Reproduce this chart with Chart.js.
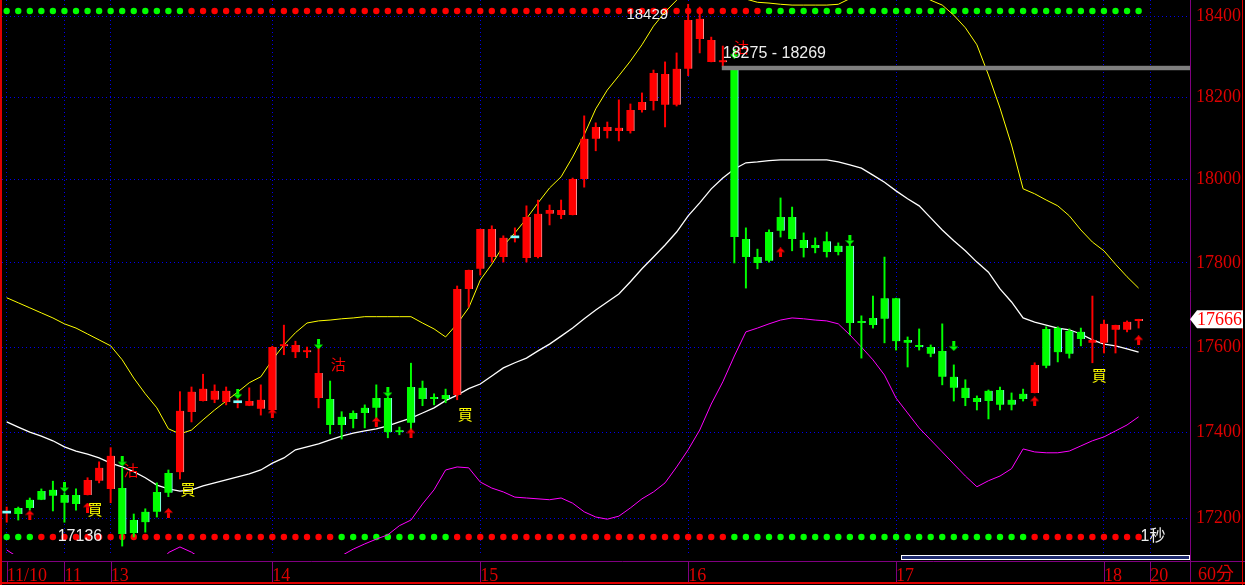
<!DOCTYPE html>
<html><head><meta charset="utf-8">
<script src="https://cdn.jsdelivr.net/npm/chart.js@4.4.1/dist/chart.umd.min.js"></script>
<style>html,body{margin:0;padding:0;background:#000;overflow:hidden}canvas{display:block}</style>
</head><body>
<canvas id="c" width="1245" height="585"></canvas>
<script>
// ---------- data (60-minute bars, index 0..98) ----------
const opens = [17212,17224,17243,17263,17266,17254,17254,17254,17287,17268,
 17270,17196,17215,17261,17305,17307,17447,17473,17476,17471,
 17469,17462,17455,17452,17602,17588,17588,17480,17478,17436,
 17445,17457,17480,17480,17401,17506,17504,17479,17487,17487,
 17738,17786,17814,17814,17860,17812,17814,17918,17915,17915,
 18002,18099,18118,18118,18118,18169,18191,18182,18182,18270,
 18343,18287,18286,18269,17857,17814,17874,17910,17910,17855,
 17843,17852,17841,17841,17658,17669,17716,17716,17617,17605,
 17600,17591,17530,17504,17480,17497,17499,17476,17490,17492,
 17643,17645,17638,17636,17610,17610,17641,17641,17662];
const highs = [17226,17226,17247,17268,17286,17259,17268,17294,17331,17364,
 17317,17210,17222,17282,17312,17495,17506,17536,17511,17506,
 17478,17504,17511,17602,17652,17614,17600,17598,17520,17448,
 17450,17464,17511,17483,17412,17562,17520,17490,17501,17745,
 17783,17881,17889,17865,17884,17937,17951,17939,17951,18004,
 18155,18138,18140,18194,18184,18211,18267,18287,18309,18429,
 18422,18348,18326,18269,17884,17833,17879,17956,17934,17872,
 17860,17874,17848,17845,17674,17721,17814,17716,17624,17643,
 17605,17655,17558,17523,17485,17499,17506,17492,17501,17563,
 17648,17648,17643,17645,17721,17664,17652,17662,17666];
const lows = [17191,17196,17219,17243,17217,17191,17219,17254,17282,17236,
 17136,17157,17168,17203,17250,17291,17424,17473,17469,17464,
 17457,17462,17440,17448,17582,17575,17575,17457,17396,17384,
 17410,17410,17431,17387,17394,17405,17462,17464,17469,17476,
 17695,17771,17802,17802,17850,17802,17812,17891,17906,17915,
 17982,18070,18101,18094,18113,18164,18169,18128,18179,18253,
 18309,18287,18275,17800,17740,17786,17802,17862,17829,17814,
 17824,17814,17819,17629,17574,17645,17610,17593,17553,17593,
 17577,17511,17473,17462,17452,17431,17452,17452,17473,17492,
 17551,17565,17574,17603,17563,17586,17586,17636,17645];
const closes = [17212,17210,17224,17243,17252,17236,17233,17289,17317,17345,
 17164,17166,17191,17215,17259,17450,17495,17502,17497,17497,
 17469,17473,17476,17600,17603,17605,17589,17539,17417,17417,
 17431,17445,17457,17400,17400,17422,17478,17478,17478,17738,
 17783,17881,17881,17860,17860,17910,17918,17927,17927,18002,
 18099,18128,18128,18126,18169,18189,18260,18257,18270,18390,
 18393,18341,18287,17862,17814,17800,17805,17877,17857,17836,
 17836,17826,17826,17657,17657,17652,17667,17614,17610,17600,
 17584,17530,17504,17480,17471,17473,17464,17464,17478,17558,
 17556,17588,17584,17619,17617,17655,17652,17660,17666];
const upperBand = [17717,17705,17693,17681,17669,17655,17645,17631,17617,17603,
 17570,17527,17490,17457,17408,17396,17405,17429,17452,17473,
 17494,17516,17530,17570,17605,17634,17657,17662,17664,17667,
 17669,17672,17672,17672,17672,17672,17657,17643,17624,17655,
 17693,17759,17797,17841,17872,17906,17944,17980,18007,18055,
 18109,18172,18218,18253,18289,18329,18375,18410,18439,18467,
 18483,18490,18490,18473,18442,18434,18432,18429,18427,18427,
 18427,18427,18429,18443,18456,18458,18460,18466,18463,18455,
 18439,18427,18402,18371,18329,18255,18174,18084,17978,17966,
 17951,17937,17913,17879,17850,17829,17797,17767,17740];
const midBand = [17424,17412,17400,17391,17380,17366,17356,17349,17340,17328,
 17319,17308,17294,17277,17268,17263,17266,17275,17282,17289,
 17296,17303,17312,17328,17340,17359,17366,17373,17382,17391,
 17398,17403,17408,17415,17424,17433,17445,17457,17474,17487,
 17502,17513,17532,17551,17563,17574,17591,17607,17626,17645,
 17667,17688,17707,17726,17755,17786,17814,17843,17874,17913,
 17944,17978,18004,18026,18041,18043,18046,18048,18048,18048,
 18048,18048,18043,18036,18028,18011,17994,17973,17954,17937,
 17908,17879,17853,17829,17802,17778,17738,17707,17669,17659,
 17652,17645,17641,17631,17617,17607,17603,17596,17588];
const lowerBand = [17127,17110,17107,17101,17085,17077,17067,17067,17063,17053,
 17054,17069,17064,17079,17121,17134,17122,17105,17100,17105,
 17098,17090,17092,17086,17075,17067,17063,17084,17100,17114,
 17129,17141,17152,17162,17183,17196,17233,17266,17312,17319,
 17317,17284,17270,17261,17249,17247,17245,17243,17247,17235,
 17215,17203,17198,17205,17224,17245,17261,17282,17319,17359,
 17405,17466,17518,17579,17636,17645,17655,17664,17669,17667,
 17664,17662,17655,17629,17600,17570,17534,17480,17445,17410,
 17382,17354,17326,17298,17273,17287,17298,17315,17361,17354,
 17352,17352,17356,17368,17380,17389,17403,17417,17436];
// signal rows (G = green dot, R = red dot), one letter per bar
const topSignal = 'GGGGGGGGGG GGGGGGRRRR RRRRRRRRRR RRRRRRRRRR RRRRRRRRRR RRRRRRRRRR RRRRRRGGGG GGGGGGGGGG GGGGGGGGGG GGGGGGGGG'.split(' ').join('');
const bottomSignal = 'GGGRRRRRRR RRRRRRRRRR RRRRRRRRRG GGGGGGGGGR RRRRRRRRRR RRRRRRRRRR RRRGGGGGGG GGGGGGGGGG GGGGGGGGGR RRRRRRRRR'.split(' ').join('');
const topSignalLevel = 18412.4;
const bottomSignalLevel = 17156.9;
// axis ticks
const dateTickIndex = [0, 5, 9, 23, 41, 59, 77, 95, 99];
const dateTickLabels = ['11/10', '11', '13', '14', '15', '16', '17', '18', '20'];
const priceTicks = [17200, 17400, 17600, 17800, 18000, 18200, 18400];
// signal markers
const upArrowIdx = [2, 7, 14, 23, 32, 35, 67, 89, 98];
const upArrowVal = [17207, 17225, 17212, 17444, 17424, 17397, 17825, 17472, 17616];
const downArrowIdx = [5, 10, 20, 27, 33, 63, 73, 82];
const downArrowVal = [17272, 17332, 17490, 17607, 17494, 18307, 17855, 17603];
const buyTextIdx = [7.65, 15.7, 39.7, 94.6];
const buyTextVal = [17222, 17266, 17443, 17534];
const sellTextIdx = [10.76, 28.7, 63.6];
const sellTextVal = [17312, 17560, 18324];
// annotations
const highIdx = 59, highVal = 18429;
const lowIdx = 10, lowVal = 17136;
const gapStartIdx = 62, gapTop = 18275, gapBottom = 18269;
const lastPrice = 17666;
const yMin = 17117.8, yMax = 18439.6;
const xMin = -0.407, xMax = 102.45;

// ---------- styling ----------
const RED = '#ff0000', GREEN = '#00ff00', DOJI = '#80ffff';
const AXIS_RED = '#dd0000';
const SERIF = '"Liberation Serif", "Noto Sans CJK TC", serif';
const idx = opens.map((_, i) => i);
const dir = i => closes[i] > opens[i] ? 1 : (closes[i] < opens[i] ? -1 : 0);

function arrowCanvas(up, color) {
  const c = document.createElement('canvas');
  c.width = 9; c.height = 10;
  const g = c.getContext('2d');
  g.fillStyle = color;
  g.beginPath();
  if (up) { g.moveTo(4.5, 0); g.lineTo(9, 4.5); g.lineTo(0, 4.5); g.closePath(); g.fill(); g.fillRect(3, 4.5, 3, 5.5); }
  else { g.fillRect(3, 0, 3, 5.5); g.moveTo(0, 5.5); g.lineTo(9, 5.5); g.lineTo(4.5, 10); g.closePath(); g.fill(); }
  return c;
}
const upArrow = arrowCanvas(true, RED);
const downArrow = arrowCanvas(false, GREEN);

const overlay = {
  id: 'overlay',
  beforeDraw(chart) {
    const c = chart.ctx; c.save(); c.fillStyle = '#000'; c.fillRect(0, 0, chart.width, chart.height); c.restore();
  },
  afterDatasetsDraw(chart) {
    const { ctx, scales: { x, y }, chartArea: a } = chart;
    ctx.save();
    // gap band
    const gx = x.getPixelForValue(gapStartIdx) - 1;
    const gy1 = y.getPixelForValue(gapTop) - 1, gy2 = y.getPixelForValue(gapBottom) + 1;
    ctx.fillStyle = '#7f7f7f';
    ctx.fillRect(gx, gy1, a.right - gx, gy2 - gy1);
    // buy / sell text marks
    ctx.font = '15px "Noto Sans CJK TC"';
    ctx.textAlign = 'center'; ctx.textBaseline = 'middle';
    ctx.fillStyle = '#ffff00';
    buyTextIdx.forEach((v, k) => ctx.fillText('買', x.getPixelForValue(v), y.getPixelForValue(buyTextVal[k])));
    ctx.fillStyle = '#ff0000';
    sellTextIdx.forEach((v, k) => ctx.fillText('沽', x.getPixelForValue(v), y.getPixelForValue(sellTextVal[k])));
    // annotations
    ctx.fillStyle = '#eeeeee';
    ctx.font = '15px "Liberation Sans"';
    ctx.textAlign = 'right';
    ctx.fillText(String(highVal), x.getPixelForValue(highIdx) - 20, y.getPixelForValue(highVal) + 11);
    ctx.font = '16px "Liberation Sans"';
    ctx.fillText(String(lowVal), x.getPixelForValue(lowIdx) - 20, y.getPixelForValue(lowVal) - 9);
    ctx.textAlign = 'left';
    ctx.fillText(gapTop + ' - ' + gapBottom, x.getPixelForValue(gapStartIdx), y.getPixelForValue(gapTop) - 13);
    ctx.font = '16px "Liberation Sans", "Noto Sans CJK TC"';
    ctx.fillText('1秒', x.getPixelForValue(opens.length - 1) + 2, y.getPixelForValue(bottomSignalLevel));
    ctx.restore();
  },
  afterDraw(chart) {
    const { ctx, scales: { x, y }, chartArea: a, width: W, height: H } = chart;
    ctx.save();
    // axis frame lines (purple)
    ctx.strokeStyle = '#800080'; ctx.lineWidth = 1; ctx.setLineDash([]);
    ctx.beginPath();
    ctx.moveTo(0, 561.5); ctx.lineTo(W, 561.5);
    ctx.moveTo(a.right + 0.5, 0); ctx.lineTo(a.right + 0.5, 583);
    dateTickIndex.forEach(v => {
      const px = Math.round(x.getPixelForValue(v)) + 0.5;
      ctx.moveTo(px, 562); ctx.lineTo(px, 582);
    });
    ctx.stroke();
    // scrollbar
    ctx.fillStyle = '#1e2a6e';
    ctx.fillRect(901, 555, a.right - 901, 5);
    ctx.strokeStyle = '#ffffff';
    ctx.strokeRect(901.5, 555.5, a.right - 902, 4);
    // outer red frame
    ctx.fillStyle = '#e00000';
    ctx.fillRect(0, 0, 2, H);
    ctx.fillRect(0, 582, W, 2);
    ctx.fillRect(W - 3, 0, 1, H);
    // period label
    ctx.font = '18px ' + SERIF;
    ctx.fillStyle = AXIS_RED; ctx.textAlign = 'left'; ctx.textBaseline = 'middle';
    ctx.fillText('60分', a.right + 8, 575);
    // last price tag
    const py = y.getPixelForValue(lastPrice);
    ctx.fillStyle = '#ffffff';
    ctx.beginPath();
    ctx.moveTo(a.right, py); ctx.lineTo(a.right + 7, py - 9); ctx.lineTo(W - 2, py - 9);
    ctx.lineTo(W - 2, py + 9); ctx.lineTo(a.right + 7, py + 9); ctx.closePath(); ctx.fill();
    ctx.fillStyle = '#ff0000';
    ctx.fillText(String(lastPrice), a.right + 7, py + 1);
    ctx.restore();
  }
};

const pt = arr => arr.map((v, i) => ({ x: i, y: v }));
const lineDs = (data, color, w) => ({
  type: 'line', data: pt(data), borderColor: color, borderWidth: w, pointRadius: 0,
  tension: 0, fill: false, order: 4
});
const dotColor = s => s.split('').map(ch => ch === 'G' ? GREEN : RED);

new Chart(document.getElementById('c'), {
  type: 'line',
  data: {
    datasets: [
      { type: 'line', data: idx.map(i => ({ x: i, y: topSignalLevel })), showLine: false,
        pointRadius: 3.2, pointBorderWidth: 0, pointBackgroundColor: dotColor(topSignal), order: 6 },
      { type: 'line', data: idx.map(i => ({ x: i, y: bottomSignalLevel })), showLine: false,
        pointRadius: 3.2, pointBorderWidth: 0, pointBackgroundColor: dotColor(bottomSignal), order: 6 },
      lineDs(upperBand, '#ffff00', 1),
      lineDs(midBand, '#ffffff', 1.3),
      lineDs(lowerBand, '#ff00ff', 1),
      { type: 'bar', data: idx.map(i => ({ x: i, y: [lows[i], highs[i]] })),
        backgroundColor: idx.map(i => dir(i) < 0 ? GREEN : RED),
        barThickness: 1.3, grouped: false, order: 3, borderWidth: 0 },
      { type: 'bar', data: idx.map(i => ({ x: i, y: [opens[i], closes[i]] })),
        backgroundColor: idx.map(i => dir(i) > 0 ? RED : dir(i) < 0 ? GREEN : DOJI),
        borderColor: idx.map(i => dir(i) > 0 ? '#ff9090' : '#90ffff'),
        borderWidth: ctx => dir(ctx.dataIndex) === 0 ? 0 : { right: 1, left: 0, top: 0, bottom: 0 },
        borderSkipped: false, minBarLength: 2, barThickness: 8, grouped: false, order: 2 },
      { type: 'line', data: upArrowIdx.map((v, k) => ({ x: v, y: upArrowVal[k] })), showLine: false,
        pointStyle: upArrow, pointRadius: 5, order: 1 },
      { type: 'line', data: downArrowIdx.map((v, k) => ({ x: v, y: downArrowVal[k] })), showLine: false,
        pointStyle: downArrow, pointRadius: 5, order: 1 }
    ]
  },
  options: {
    responsive: false, animation: false, devicePixelRatio: 1, events: [],
    layout: { autoPadding: false, padding: { left: 2, top: 0, right: 0, bottom: 0 } },
    plugins: { legend: { display: false }, tooltip: { enabled: false } },
    scales: {
      x: {
        type: 'linear', min: xMin, max: xMax, offset: false,
        grid: { color: '#0000ee', lineWidth: 1, drawTicks: false, offset: false, borderDash: [1, 3] },
        border: { display: false, dash: [1, 3] },
        afterBuildTicks: s => { s.ticks = dateTickIndex.map(v => ({ value: v })); },
        afterFit: s => { s.height = 31; s.paddingLeft = 0; s.paddingRight = 0; },
        ticks: {
          align: 'start', padding: 11, color: AXIS_RED, autoSkip: false, maxRotation: 0, minRotation: 0,
          font: { family: SERIF, size: 18 },
          callback: v => { const k = dateTickIndex.indexOf(v); return k >= 0 ? dateTickLabels[k] : ''; }
        }
      },
      y: {
        type: 'logarithmic', position: 'right', min: yMin, max: yMax,
        grid: { color: '#0000ee', lineWidth: 1, drawTicks: false, borderDash: [1, 3] },
        border: { display: false, dash: [1, 3] },
        afterBuildTicks: s => { s.ticks = priceTicks.map(v => ({ value: v })); },
        afterFit: s => { s.width = 55; s.paddingTop = 0; s.paddingBottom = 0; },
        ticks: {
          padding: 6, color: AXIS_RED, autoSkip: false,
          font: { family: SERIF, size: 18 },
          callback: v => String(v)
        }
      }
    }
  },
  plugins: [overlay]
});
</script>
</body></html>
